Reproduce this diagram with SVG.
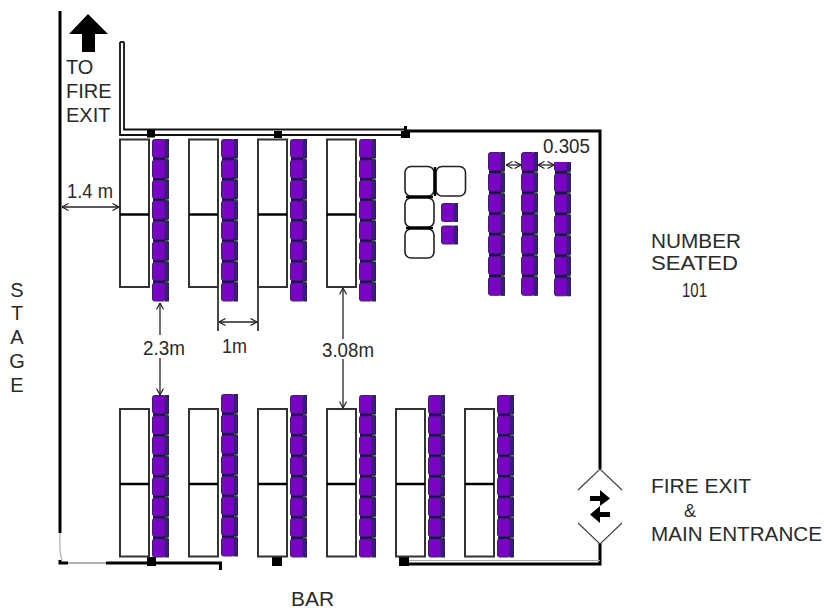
<svg xmlns="http://www.w3.org/2000/svg" width="824" height="610" viewBox="0 0 824 610">
<style>
text{font-family:"Liberation Sans",Arial,sans-serif;font-size:20px;fill:#2a2a2a}
.tb{fill:#fff;stroke:#333;stroke-width:2}
.mid{stroke:#000;stroke-width:2.5;fill:none}
.w{stroke:#000;stroke-width:3;fill:none}
.wd{stroke:#111;stroke-width:1.8;fill:none}
.dim{stroke:#222;stroke-width:1.3;fill:none}
.door{stroke:#444;stroke-width:1.2;fill:none}
.rt{fill:#fff;stroke:#222;stroke-width:1.6}
.blk{fill:#000}
</style>
<defs>
<marker id="ah" viewBox="0 0 8 8" refX="7.5" refY="4" markerWidth="8" markerHeight="8" markerUnits="userSpaceOnUse" orient="auto-start-reverse"><path d="M1 0.5L7.5 4L1 7.500" fill="none" stroke="#222" stroke-width="1.2"/></marker>
<g id="chair">
<rect x="13" y="0.5" width="3.500" height="18" fill="#3a1a8a" stroke="#26263a" stroke-width="1"/>
<rect x="0.5" y="0.5" width="12.500" height="18" rx="2" fill="#7a04c4" stroke="#3c2070" stroke-width="1"/>
</g>
<g id="band"><rect x="1" y="17.500" width="12" height="4" fill="#20085a"/><rect x="13" y="17.500" width="3.500" height="4" fill="#555"/></g>
<g id="col8">
<use href="#band" y="0"/><use href="#band" y="20.500"/><use href="#band" y="41"/><use href="#band" y="61.500"/><use href="#band" y="82"/><use href="#band" y="102.500"/><use href="#band" y="123"/>
<use href="#chair" y="0"/><use href="#chair" y="20.500"/><use href="#chair" y="41"/><use href="#chair" y="61.500"/><use href="#chair" y="82"/><use href="#chair" y="102.500"/><use href="#chair" y="123"/><use href="#chair" y="143.500"/>
</g>
<g id="col7">
<use href="#band" y="0"/><use href="#band" y="20.800"/><use href="#band" y="41.600"/><use href="#band" y="62.400"/><use href="#band" y="83.200"/><use href="#band" y="104"/>
<use href="#chair" y="0"/><use href="#chair" y="20.800"/><use href="#chair" y="41.600"/><use href="#chair" y="62.400"/><use href="#chair" y="83.200"/><use href="#chair" y="104"/><use href="#chair" y="124.800"/>
</g>
<g id="tbl"><rect class="tb" x="0" y="0" width="29" height="147.500"/><line class="mid" x1="0" y1="75" x2="29" y2="75"/></g>
</defs>
<rect width="824" height="610" fill="#fff"/>

<g id="walls">
<path class="w" d="M60 11V533"/>
<path d="M60 533Q59 552 62 560" fill="none" stroke="#bbb" stroke-width="1.500"/>
<path class="w" d="M60 560V563H68"/>
<path d="M68 563H106" fill="none" stroke="#999" stroke-width="1.500"/>
<path class="w" d="M106 563H220.500V570"/>
<path class="w" d="M409 564H600V543"/>
<path d="M409 560.500H600" stroke="#aaa" stroke-width="1" fill="none"/>
<path class="w" d="M600 469V131H405"/>
<path class="wd" d="M120 42V135H405"/>
<path class="wd" d="M124 42V129.500H405"/>
<path class="wd" d="M120 42H124"/>
</g>

<g id="posts">
<rect class="blk" x="147" y="130" width="8" height="7.500"/>
<rect class="blk" x="274" y="131" width="8" height="7"/>
<rect class="blk" x="401" y="131" width="9" height="7"/><rect class="blk" x="404" y="126" width="3" height="6"/>
<rect class="blk" x="147" y="557" width="9" height="9"/>
<rect class="blk" x="272" y="557" width="10" height="9"/>
<rect class="blk" x="399" y="557" width="10" height="9"/>
</g>

<g id="tables-top">
<use id="t1" href="#tbl" x="120" y="139.500"/><use id="t2" href="#tbl" x="189" y="139.500"/><use id="t3" href="#tbl" x="258" y="139.500"/><use id="t4" href="#tbl" x="327" y="139.500"/>
</g>
<g id="tables-bottom">
<use id="t5" href="#tbl" x="120" y="409"/><use id="t6" href="#tbl" x="189" y="409"/><use id="t7" href="#tbl" x="258" y="409"/><use id="t8" href="#tbl" x="327" y="409"/><use id="t9" href="#tbl" x="396" y="409"/><use id="t10" href="#tbl" x="465" y="409"/>
</g>
<g id="seats-top">
<use href="#col8" x="152" y="139"/><use href="#col8" x="221" y="139"/><use href="#col8" x="290" y="139"/><use href="#col8" x="359" y="139"/>
</g>
<g id="seats-bottom">
<use href="#col8" x="152" y="395"/><use href="#col8" x="221" y="394"/><use href="#col8" x="290" y="395"/><use href="#col8" x="359" y="395"/><use href="#col8" x="428" y="395"/><use href="#col8" x="497" y="395"/>
</g>
<g id="small-tables">
<rect class="rt" x="405" y="166.500" width="29" height="29.500" rx="6"/>
<rect class="rt" x="436" y="166.500" width="29.500" height="29.500" rx="6"/>
<rect class="rt" x="405" y="198" width="29" height="29" rx="6"/>
<rect class="rt" x="405" y="229" width="29" height="29" rx="6"/>
<path class="mid" d="M435 167V196M406 197H433M406 228H433"/>
<use href="#chair" x="441" y="203"/><use href="#chair" x="441" y="225.500"/>
</g>
<g id="seats-right">
<use href="#col7" x="488" y="152"/>
<use href="#col7" x="521" y="152"/>
<use href="#col7" x="554" y="152.500"/>
<rect x="553" y="151" width="19" height="11" fill="#fff"/>
<rect x="554" y="162" width="13" height="3" fill="#7a04c4"/>
</g>

<g id="connectors">
<line class="dim" x1="62" y1="207" x2="119" y2="207" marker-start="url(#ah)" marker-end="url(#ah)"/>
<line class="dim" x1="506" y1="165" x2="521" y2="165" marker-start="url(#ah)" marker-end="url(#ah)"/>
<line class="dim" x1="538" y1="165" x2="554" y2="165" marker-start="url(#ah)" marker-end="url(#ah)"/>
<line class="dim" x1="160" y1="303" x2="160" y2="335" marker-start="url(#ah)"/>
<line class="dim" x1="160" y1="358" x2="160" y2="395" marker-end="url(#ah)"/>
<line class="dim" x1="219" y1="322" x2="257" y2="322" marker-start="url(#ah)" marker-end="url(#ah)"/>
<path d="M218 287V331M258 287V331" stroke="#333" stroke-width="1.800" fill="none"/>
<line class="dim" x1="343" y1="288" x2="343" y2="339" marker-start="url(#ah)"/>
<line class="dim" x1="343" y1="359" x2="343" y2="408" marker-end="url(#ah)"/>
</g>

<g id="door">
<path class="door" d="M578 490L600 469L622 490M578 523L600 544L622 523"/>
<path class="blk" d="M590 496H600V490L610 498.500L600 506V501H590Z"/>
<path class="blk" d="M610 512H600V506L590 514.500L600 523V517H610Z"/>
</g>
<g id="exit-arrow"><path class="blk" d="M88 14L108 34H95V52H82V34H69Z"/></g>

<g id="labels">
<text x="66" y="74">TO</text>
<text x="66" y="98">FIRE</text>
<text x="66" y="122">EXIT</text>
<text x="67" y="198" textLength="46" lengthAdjust="spacingAndGlyphs">1.4 m</text>
<text x="543" y="153" textLength="47" lengthAdjust="spacingAndGlyphs">0.305</text>
<text x="143" y="355" textLength="42" lengthAdjust="spacingAndGlyphs">2.3m</text>
<text x="222" y="353" textLength="25" lengthAdjust="spacingAndGlyphs">1m</text>
<text x="322" y="357" textLength="52" lengthAdjust="spacingAndGlyphs">3.08m</text>
<text x="651" y="248" textLength="90" lengthAdjust="spacingAndGlyphs">NUMBER</text>
<text x="651" y="270" textLength="87" lengthAdjust="spacingAndGlyphs">SEATED</text>
<text x="682" y="297" textLength="25" lengthAdjust="spacingAndGlyphs">101</text>
<text x="651" y="493" textLength="100" lengthAdjust="spacingAndGlyphs">FIRE EXIT</text>
<text x="684" y="517" style="font-size:18px">&amp;</text>
<text x="651" y="541" textLength="171" lengthAdjust="spacingAndGlyphs">MAIN ENTRANCE</text>
<text x="291" y="606" textLength="43" lengthAdjust="spacingAndGlyphs">BAR</text>
<text x="17" y="297" text-anchor="middle">S</text>
<text x="17" y="320" text-anchor="middle">T</text>
<text x="17" y="344" text-anchor="middle">A</text>
<text x="17" y="368" text-anchor="middle">G</text>
<text x="17" y="392" text-anchor="middle">E</text>
</g>
</svg>
